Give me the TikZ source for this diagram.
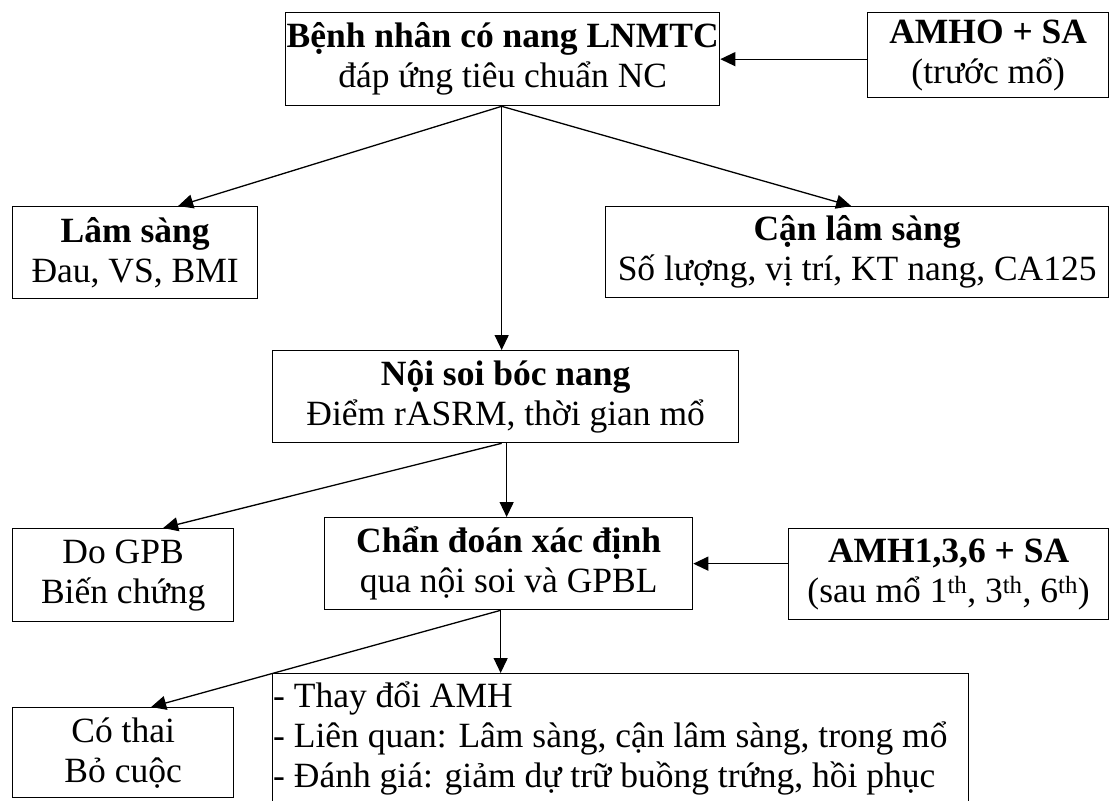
\documentclass[tikz,border=0pt]{standalone}
\usepackage{fontspec}
\setmainfont{Liberation Serif}
\usetikzlibrary{arrows.meta,calc}
\begin{document}
\begin{tikzpicture}[x=1pt,y=-1pt,
  box/.style={draw, line width=1.3pt, inner sep=1pt, align=center,
    font=\fontsize{35.5}{40}\selectfont, anchor=north west},
  arr/.style={line width=1.3pt, -{Triangle[length=15pt,width=14pt]}},
  txt/.style={anchor=base west, inner sep=0pt, font=\fontsize{35.5}{40}\selectfont}]
\clip (0,0) rectangle (1120,801);
\fill[white] (0,0) rectangle (1120,801);

\node[box, minimum width=430pt, minimum height=93pt] (top) at (285,12)
  {\textbf{Bệnh nhân có nang LNMTC}\\đáp ứng tiêu chuẩn NC};
\node[box, minimum width=241pt, minimum height=85pt] (amho) at (867,12)
  {\textbf{AMHO + SA}\\(trước mổ)};
\node[box, minimum width=245pt, minimum height=92pt] (ls) at (12,206)
  {\textbf{Lâm sàng}\\Đau, VS, BMI};
\node[box, minimum width=503pt, minimum height=91pt] (cls) at (605,206)
  {\textbf{Cận lâm sàng}\\Số lượng, vị trí, KT nang, CA125};
\node[box, minimum width=466pt, minimum height=92pt] (ns) at (272,350)
  {\textbf{Nội soi bóc nang}\\Điểm rASRM, thời gian mổ};
\node[box, minimum width=221pt, minimum height=93pt] (dogpb) at (12,528)
  {Do GPB\\Biến chứng};
\node[box, minimum width=368pt, minimum height=92pt] (cd) at (324,517)
  {\textbf{Chẩn đoán xác định}\\qua nội soi và GPBL};
\node[box, minimum width=320pt, minimum height=91pt] (amh) at (788,528)
  {\textbf{AMH1,3,6 + SA}\\(sau mổ 1\textsuperscript{th}, 3\textsuperscript{th}, 6\textsuperscript{th})};
\node[box, minimum width=221pt, minimum height=90pt] (cothai) at (12,707)
  {Có thai\\Bỏ cuộc};
\node[box, minimum width=696pt, minimum height=200pt] (res) at (272,673) {};
\node[txt] (r1) at (273,707) {- Thay đổi AMH};
\node[txt] (r2) at (273,747) {- Liên quan: Lâm sàng, cận lâm sàng, trong mổ};
\node[txt] (r3) at (273,787) {- Đánh giá: giảm dự trữ buồng trứng, hồi phục};

\coordinate (topout) at ($(top.south)+(-1,0)$);
\coordinate (nsout) at ($(ns.south)+(-4,0)$);
\coordinate (nsdown) at ($(ns.south)+(1,0)$);
\coordinate (cdout) at ($(cd.south)+(-8,0)$);

\draw[arr] (top.east -| amho.west) -- (top.east);
\draw[arr] (topout) -- ($(ls.north)+(43,0)$);
\draw[arr] (topout) -- ($(cls.north)+(-6,0)$);
\draw[arr] (topout) -- (topout |- ns.north);
\draw[arr] (nsdown) -- (nsdown |- cd.north);
\draw[arr] (nsout) -- ($(dogpb.north)+(40,0)$);
\draw[arr] (cd.east -| amh.west) -- (cd.east);
\draw[arr] (cdout) -- (cdout |- res.north);
\draw[arr] (cdout) -- ($(cothai.north)+(28,0)$);
\end{tikzpicture}
\end{document}
